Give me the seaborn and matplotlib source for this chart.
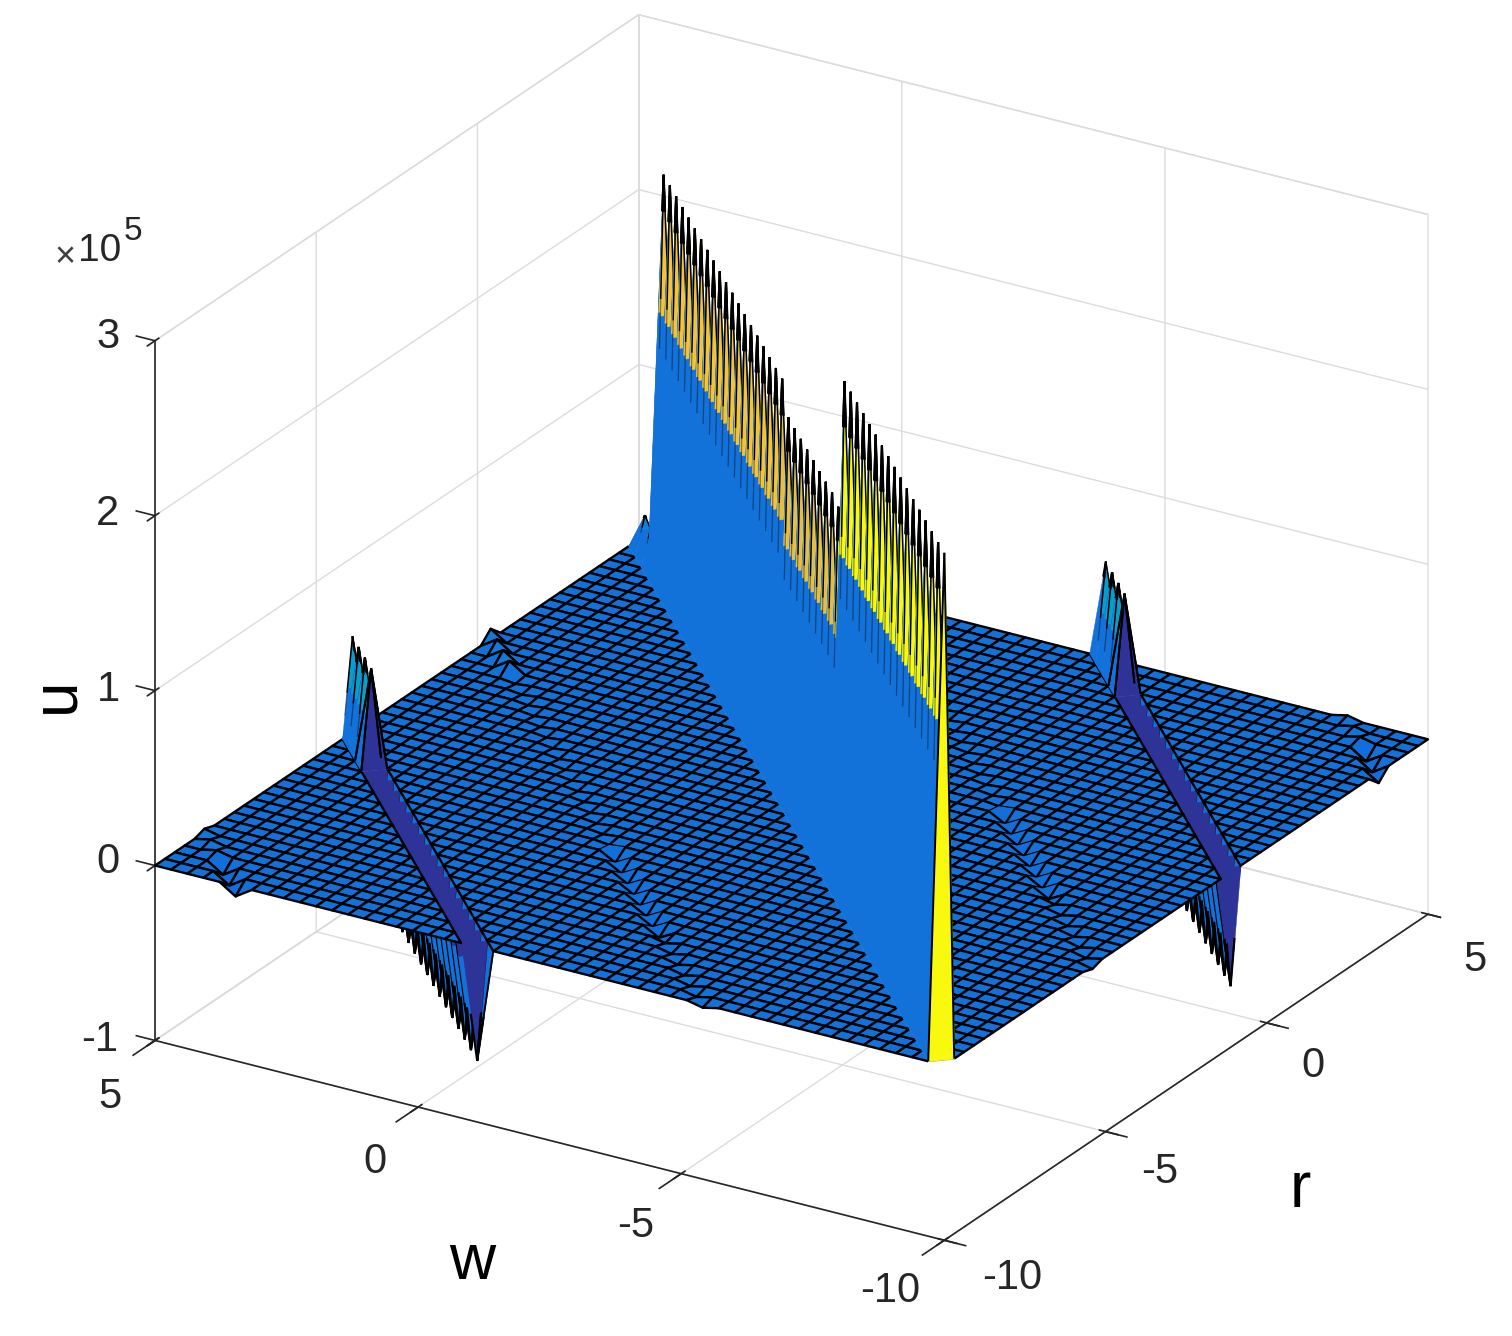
import numpy as np
import seaborn as sns
import matplotlib.pyplot as plt
from mpl_toolkits.mplot3d.art3d import Poly3DCollection, Line3DCollection

# grid of the surface, r along columns and w along rows
n_pts = 50
r_vals = np.linspace(-10, 5, n_pts)
w_vals = np.linspace(-10, 5, n_pts)

# heights in units of 1e5, read along each diagonal from the low r / low w end
main_ridge = [2.93, 2.93, 2.93, 2.93, 2.93, 2.93, 2.93, 2.93, 2.93, 2.93, 2.93, 2.93,
              2.93, 2.93, 2.93, 2.93, 2.93, 2.15, 2.17, 2.17, 2.17, 2.17, 2.17, 2.17,
              2.17, 2.17, 2.33, 2.33, 2.33, 2.33, 2.33, 2.33, 2.33, 2.33, 2.33, 2.33,
              2.33, 2.33, 2.33, 2.33, 2.33, 2.33, 2.33, 2.33, 2.33, 2.33, 0.20, 0.20,
              0.20, 0.0]
side_ridge = [-0.65, -0.65, -0.65, -0.65, -0.65, -0.65, -0.65, -0.65, -0.65, -0.65,
              -0.65, -0.65, -0.65, -0.65, -0.65, -0.65, -0.65, 0.55, 0.55, 0.55, 0.55]
small_ridge = [-0.02, -0.02, -0.02, -0.02, -0.02, -0.02, -0.02, -0.05, -0.05, -0.05,
               -0.05, -0.05, -0.05, -0.05, -0.05, -0.01, -0.01, -0.01, -0.01, -0.01,
               -0.01, -0.01, -0.01, -0.01, -0.01, -0.01, -0.01, -0.01, -0.01, -0.01,
               -0.01, 0.06, 0.06, 0.06, 0.06]
edge_ridge = [-0.06, -0.06, -0.06, 0.02, 0.02, 0.02]

# offset between row and column index of each ridge
side_offset = 29
small_offset = 15
edge_offset = 44

r_ticks = [-10, -5, 0, 5]
w_ticks = [-10, -5, 0, 5]
u_ticks = [-1, 0, 1, 2, 3]

parula = ['#352a87', '#0f5cdd', '#1481d6', '#06a4ca', '#2eb7a4',
          '#87bf77', '#d1bb59', '#fec832', '#f9fb0e']

Z = np.zeros((n_pts, n_pts))
for i, h in enumerate(main_ridge):
    Z[i, i] = h
for off, vals in [(side_offset, side_ridge), (small_offset, small_ridge), (edge_offset, edge_ridge)]:
    for i, h in enumerate(vals):
        Z[i + off, i] = h
        Z[i, i + off] = h

sns.set_theme(style='ticks')
plt.rcParams['font.family'] = ['Liberation Sans', 'DejaVu Sans']

W, H = 1512, 1336
fig = plt.figure(figsize=(W / 100, H / 100), dpi=100)
side = 1336
ax = fig.add_axes([(791.5 - 0.5135 * side) / W, (708.5 - 0.5135 * side) / H, side / W, side / H],
                  projection='3d', proj_type='ortho')
ax.view_init(elev=24.4, azim=211.5)
ax.set_box_aspect((1, 1, 0.83), zoom=1.103)
ax.computed_zorder = False

cmap = sns.blend_palette(parula, as_cmap=True)
norm = plt.Normalize(-0.75, 2.95)
blue = cmap(norm(0.0))
order = [10]
mesh_lw = 1.7


def pt(row, col):
    return np.array([r_vals[col], w_vals[row], Z[row, col]])


def lerp(a, b, frac):
    return a + frac * (b - a)


def fill(polys, color):
    order[0] += 1
    ax.add_collection3d(Poly3DCollection(polys, facecolors=color, edgecolors=color, linewidths=0.3,
                                         zorder=order[0]), autolim=False)


def lines(segs, alpha=1.0, lw=mesh_lw):
    order[0] += 1
    ax.add_collection3d(Line3DCollection(segs, colors='black', linewidths=lw, alpha=alpha,
                                         zorder=order[0]), autolim=False)


def fan(row, col):
    # the four faces round one ridge point, each given by its two floor points
    top = row + 1 < n_pts
    right = col + 1 < n_pts
    faces = {}
    if top and right:
        faces['back'] = (pt(row, col + 1), pt(row + 1, col))
    if top and col > 0:
        faces['left'] = (pt(row, col - 1), pt(row + 1, col))
    if row > 0 and right:
        faces['right'] = (pt(row - 1, col), pt(row, col + 1))
    if row > 0 and col > 0:
        faces['front'] = (pt(row - 1, col), pt(row, col - 1))
    return faces


def draw_up(row, col, prev, line_frac, strip_frac):
    tip = pt(row, col)
    faces = fan(row, col)
    if tip[2] == 0:
        fill([[tip, *f] for f in faces.values()], blue)
        return
    fill([[tip, *faces[k]] for k in ('back', 'left', 'right', 'front') if k in faces], blue)
    first = prev is None
    turn = prev is not None and prev < 0
    if 'back' in faces:
        a, b = faces['back']
        f = 1.0 if first else strip_frac
        fill([[tip, lerp(tip, a, f), lerp(tip, b, f)]], cmap(norm(tip[2])))
    if 'front' in faces:
        a, b = faces['front']
        f = 1.0 if turn else strip_frac
        fill([[tip, lerp(tip, a, f), lerp(tip, b, f)]], cmap(norm(prev)))
    if first or turn:
        ends = [e for k in faces for e in faces[k]]
        lines([[tip, e] for e in ends], lw=1.4)
        return
    near = [e for k in ('back', 'left', 'right') if k in faces for e in faces[k]]
    lines([[tip, lerp(tip, e, line_frac * 0.3)] for e in near], lw=1.5)
    ends = faces['front'] if 'front' in faces else near
    lines([[tip, lerp(tip, e, line_frac)] for e in ends], lw=1.1)
    lines([[lerp(tip, e, line_frac), lerp(tip, e, line_frac * 1.4)] for e in ends], alpha=0.4, lw=0.9)


def draw_down(row, col, is_end):
    tip = pt(row, col)
    faces = fan(row, col)
    if 'front' in faces:
        fill([[tip, *faces['front']]], blue)
    fill([[tip, *faces[k]] for k in ('left', 'right') if k in faces], blue)
    ends = [e for k in ('left', 'right') if k in faces for e in faces[k]]
    lines([[tip, e] for e in ends], lw=1.3)
    if 'back' in faces:
        a, b = faces['back']
        f = 0.0 if is_end else 0.8
        if f > 0:
            fill([[tip, lerp(tip, a, f), lerp(tip, b, f)]], blue)
        fill([[lerp(tip, a, f), a, b, lerp(tip, b, f)]], cmap(norm(tip[2])))
        if is_end:
            ends += [a, b]
    lines([[tip, lerp(tip, e, 0.4)] for e in ends], lw=1.6)


# stage 1, the pits of the side ridges, hidden afterwards by the floor in front of them
side_paths = [[(i + side_offset, i) for i in range(len(side_ridge))],
              [(i, i + side_offset) for i in range(len(side_ridge))]]
main_path = [(i, i) for i in range(len(main_ridge))]
for path in side_paths:
    for i in range(len(path) - 1, -1, -1):
        if Z[path[i]] < 0:
            draw_down(path[i][0], path[i][1], i == 0)

# stage 2, the floor mesh without the faces that touch the tall ridges
skip = {-1, 0, 1, side_offset - 1, side_offset, side_offset + 1,
        -side_offset - 1, -side_offset, -side_offset + 1}
quads, quad_colors, quad_edges = [], [], []
for row in range(n_pts - 1):
    for col in range(n_pts - 1):
        if row - col in skip:
            continue
        quads.append([pt(row, col), pt(row + 1, col), pt(row + 1, col + 1), pt(row, col + 1)])
        quad_colors.append(cmap(norm(Z[row, col])))
        shallow = abs(row - col) == small_offset and Z[row, col] <= -0.05
        quad_edges.append((0, 0, 0, 0) if shallow else (0, 0, 0, 1))
ax.add_collection3d(Poly3DCollection(quads, facecolors=quad_colors, edgecolors=quad_edges, linewidths=mesh_lw,
                                     zorder=5000), autolim=False)

side_halves, main_halves, main_segs = [], [], []
for path in side_paths:
    for row, col in path:
        if row + 1 < n_pts and col > 0:
            side_halves.append([pt(row, col - 1), pt(row + 1, col - 1), pt(row + 1, col)])
        if row > 0 and col + 1 < n_pts:
            side_halves.append([pt(row - 1, col), pt(row - 1, col + 1), pt(row, col + 1)])
for row, col in main_path:
    if row + 1 < n_pts and col > 0:
        a, b, c = pt(row, col - 1), pt(row + 1, col - 1), pt(row + 1, col)
        main_halves.append([a, b, c])
        main_segs += [[a, b], [b, c]]
    if row > 0 and col + 1 < n_pts:
        a, b, c = pt(row - 1, col), pt(row - 1, col + 1), pt(row, col + 1)
        main_halves.append([a, b, c])
        main_segs += [[a, b], [b, c]]
ax.add_collection3d(Poly3DCollection(side_halves, facecolors=[blue], edgecolors='black', linewidths=mesh_lw,
                                     zorder=5001), autolim=False)
ax.add_collection3d(Poly3DCollection(main_halves, facecolors=[blue], edgecolors=[blue], linewidths=0.3,
                                     zorder=5002), autolim=False)
ax.add_collection3d(Line3DCollection(main_segs, colors='black', linewidths=mesh_lw, zorder=5003), autolim=False)

# stage 3, the walls standing above the floor, painted from back to front
order[0] = 6000
for path in side_paths:
    for i in range(len(path) - 1, -1, -1):
        if Z[path[i]] > 0:
            draw_up(path[i][0], path[i][1], Z[path[i - 1]], 0.55, 0.5)
for i in range(len(main_path) - 1, -1, -1):
    prev = Z[main_path[i - 1]] if i > 0 else None
    draw_up(i, i, prev, 0.3, 0.34)

ax.set_xlim(-10, 5, view_margin=0)
ax.set_ylim(-10, 5, view_margin=0)
ax.set_zlim(-1, 3, view_margin=0)
ax.set_xticks(r_ticks)
ax.set_yticks(w_ticks)
ax.set_zticks(u_ticks)
ax.set_xticklabels([])
ax.set_yticklabels([])
ax.set_zticklabels([])

for axis in (ax.xaxis, ax.yaxis, ax.zaxis):
    axis.set_pane_color((1, 1, 1, 1))
    axis.pane.set_edgecolor('#d9d9d9')
    axis.line.set_color('#262626')
    axis.line.set_linewidth(1.2)
    axis._axinfo['grid'].update(color='#dcdcdc', linewidth=1.0)

# outward tick marks, as the surface is painted by hand they sit on top
tick_segs = [[(t, -10, -1), (t, -10.42, -1)] for t in r_ticks]
tick_segs += [[(-10, t, -1), (-10.7, t, -1)] for t in w_ticks]
tick_segs += [[(-10, 5, t), (-10, 5.37, t)] for t in u_ticks]
ax.add_collection3d(Line3DCollection(tick_segs, colors='#262626', linewidths=1.2, zorder=2), autolim=False)

tick_font = {'fontsize': 30, 'ha': 'center', 'va': 'center', 'color': '#262626'}
for x, y, s in [(110, 1097, '5'), (375, 1162, '0'), (636, 1226, '-5'), (890, 1291, '-10')]:
    fig.text(x / W, 1 - y / H, s, **tick_font)
for x, y, s in [(1012, 1278, '-10'), (1160, 1172, '-5'), (1313, 1066, '0'), (1475, 960, '5')]:
    fig.text(x / W, 1 - y / H, s, **tick_font)
for x, y, s in [(100, 1040, '-1'), (108, 862, '0'), (108, 690, '1'), (108, 514, '2'), (108, 337, '3')]:
    fig.text(x / W, 1 - y / H, s, **tick_font)

fig.text(472 / W, 1 - 1262 / H, 'w', fontsize=46, ha='center', va='center', color='black')
fig.text(1300 / W, 1 - 1190 / H, 'r', fontsize=46, ha='center', va='center', color='black')
fig.text(56 / W, 1 - 695 / H, 'u', fontsize=46, rotation=90, ha='center', va='center', color='black')
fig.text(65 / W, 1 - 258 / H, '×', fontsize=26, ha='center', va='center', color='#404040')
fig.text(100 / W, 1 - 251 / H, '10', fontsize=28, ha='center', va='center', color='#262626')
fig.text(133 / W, 1 - 232 / H, '5', fontsize=24, ha='center', va='center', color='#262626')

fig.savefig('out.png', dpi=100)
